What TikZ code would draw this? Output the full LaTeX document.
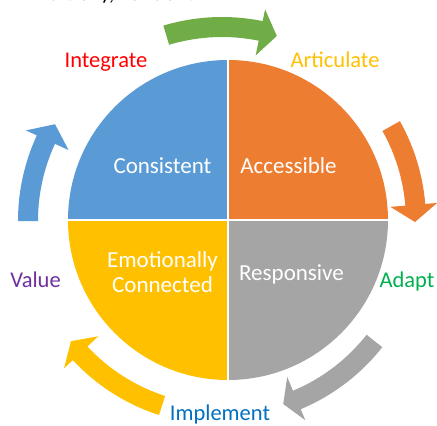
\documentclass[tikz,border=0pt]{standalone}
\usepackage{fontspec}
\setmainfont{Carlito}
\definecolor{cblue}{HTML}{5B9BD5}
\definecolor{corange}{HTML}{ED7D31}
\definecolor{cgray}{HTML}{A5A5A5}
\definecolor{cyellow}{HTML}{FFC000}
\definecolor{cgreen}{HTML}{70AD47}
\definecolor{lred}{HTML}{FF0000}
\definecolor{lgreen}{HTML}{00B050}
\definecolor{lblue}{HTML}{0070C0}
\definecolor{lpurple}{HTML}{7030A0}
\newcommand{\cyclearrow}[4]{%
  \fill[#1] (#2:204pt) arc[start angle=#2, end angle=#3, radius=204pt]
    -- (#3:216pt) -- (#4:193pt) -- (#3:169pt) -- (#3:184pt)
    arc[start angle=#3, end angle=#2, radius=184pt] -- cycle;}
\tikzset{
  pietext/.style={text=white, inner sep=0pt, anchor=base, font=\fontsize{23}{25}\selectfont},
  lbl/.style={inner sep=0pt, anchor=base, font=\fontsize{22.5}{25}\selectfont},
}
\begin{document}
\begin{tikzpicture}[x=1pt,y=1pt]
\useasboundingbox (-228,-206) rectangle (209,220);
% pie
\fill[cblue] (0,0) -- (180:160pt) arc[start angle=180, end angle=90, radius=160pt] -- cycle;
\fill[corange] (0,0) -- (90:160pt) arc[start angle=90, end angle=0, radius=160pt] -- cycle;
\fill[cgray] (0,0) -- (0:160pt) arc[start angle=0, end angle=-90, radius=160pt] -- cycle;
\fill[cyellow] (0,0) -- (-90:160pt) arc[start angle=-90, end angle=-180, radius=160pt] -- cycle;
\draw[white, line width=1.5pt] (-161,0) -- (161,0) (0,-161) -- (0,161);
% arrows
\begin{scope}[shift={(-6,-1)}]
\cyclearrow{cgreen}{106.7}{78.5}{73.5}
\cyclearrow{corange}{29.3}{4.8}{-0.3}
\cyclearrow{cgray}{-38.2}{-67.3}{-71.5}
\cyclearrow{cyellow}{-108}{-137}{-141.5}
\cyclearrow{cblue}{180}{155.2}{149.9}
\end{scope}
% pie texts
\node[pietext] (consistent) at (-65.5,47) {Consistent};
\node[pietext] (accessible) at (60.5,47) {Accessible};
\node[pietext] (emo) at (-65.5,-47) {Emotionally};
\node[pietext] (conn) at (-65.5,-72) {Connected};
\node[pietext] (resp) at (63.5,-60) {Responsive};
% labels
\node[lbl, text=lred] (integrate) at (-122,152) {Integrate};
\node[lbl, text=cyellow] (articulate) at (107,152) {Articulate};
\node[lbl, text=lpurple] (value) at (-192.5,-67) {Value};
\node[lbl, text=lgreen] (adapt) at (179,-67) {Adapt};
\node[lbl, text=lblue] (implement) at (-8,-200) {Implement};
% cropped top text
\node[lbl, anchor=base west, text=black] (top) at (-190,219) {Edition), London:};
\end{tikzpicture}
\end{document}
